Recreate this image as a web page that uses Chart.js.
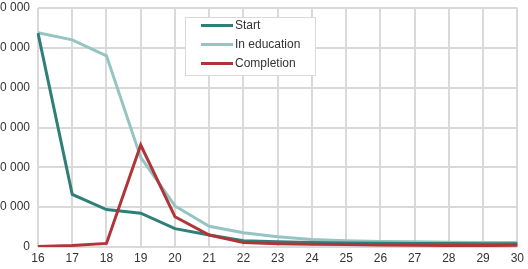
<!DOCTYPE html>
<html>
<head>
<meta charset="utf-8">
<script src="https://cdn.jsdelivr.net/npm/chart.js@4.4.0/dist/chart.umd.min.js"></script>
<style>
  html, body { margin: 0; padding: 0; background: #fff; overflow: hidden; }
  #wrap { position: absolute; left: -20px; top: 0; width: 548px; height: 269px; }
</style>
</head>
<body>
<div id="wrap"><canvas id="chart"></canvas></div>
<script>
const ages = ['16', '17', '18', '19', '20', '21', '22', '23', '24', '25', '26', '27', '28', '29', '30']
const startValues = [53700, 13200, 9400, 8500, 4600, 3000, 1600, 1300, 1100, 1000, 950, 900, 850, 800, 800]
const educationValues = [53800, 52000, 48000, 22500, 10300, 5200, 3600, 2600, 1900, 1600, 1400, 1300, 1200, 1100, 1100]
const completionValues = [100, 400, 900, 25600, 7600, 3000, 1100, 800, 700, 600, 500, 450, 400, 350, 450]
const yTicks = [0, 10000, 20000, 30000, 40000, 50000, 60000]

const FONT = "'Liberation Sans', Arial, sans-serif"
const GRID = '#d9d9d9'
const TEXT = '#333'

// legend box drawn inside the plot, like the spreadsheet original
const boxLegend = {
  id: 'boxLegend',
  afterDatasetsDraw(chart) {
    const ctx = chart.ctx
    const x = 205, y = 17, w = 130, h = 58
    ctx.save()
    ctx.fillStyle = '#fff'
    ctx.fillRect(x, y, w, h)
    ctx.strokeStyle = GRID
    ctx.lineWidth = 1
    ctx.strokeRect(x + 0.5, y + 0.5, w, h)
    ctx.font = '12px ' + FONT
    ctx.textBaseline = 'middle'
    chart.data.datasets.forEach((ds, i) => {
      const rowY = y + 8.5 + i * 19
      ctx.strokeStyle = ds.borderColor
      ctx.lineWidth = 3
      ctx.beginPath()
      ctx.moveTo(x + 16, rowY)
      ctx.lineTo(x + 48, rowY)
      ctx.stroke()
      ctx.fillStyle = TEXT
      ctx.fillText(ds.label, x + 50, rowY + 0.5)
    })
    ctx.restore()
  }
}

const fmt = v => String(v).replace(/\B(?=(\d{3})+(?!\d))/g, ' ')

new Chart(document.getElementById('chart'), {
  type: 'line',
  data: {
    labels: ages,
    datasets: [
      { label: 'Start', data: startValues, borderColor: '#2f7f78', order: 1 },
      { label: 'In education', data: educationValues, borderColor: '#95c5c2', order: 2 },
      { label: 'Completion', data: completionValues, borderColor: '#b03538', order: 0 }
    ]
  },
  options: {
    responsive: true,
    maintainAspectRatio: false,
    animation: false,
    layout: { padding: { top: 8, right: 10, left: 0, bottom: 0 } },
    elements: {
      line: { borderWidth: 3, tension: 0, fill: false },
      point: { radius: 0 }
    },
    plugins: {
      legend: { display: false },
      tooltip: { enabled: false }
    },
    scales: {
      x: {
        offset: false,
        grid: { color: GRID, lineWidth: 2, drawTicks: false },
        border: { display: false },
        ticks: { color: TEXT, font: { family: FONT, size: 12 }, padding: 4, maxRotation: 0, autoSkip: false },
        afterFit: s => { s.height = 22 }
      },
      y: {
        min: 0,
        max: 60000,
        afterBuildTicks: s => { s.ticks = yTicks.map(v => ({ value: v })) },
        grid: { color: GRID, lineWidth: 2, drawTicks: false },
        border: { display: false },
        ticks: { color: TEXT, font: { family: FONT, size: 12 }, padding: 8, callback: fmt },
        afterFit: s => { s.width = 58; s.paddingTop = 0; s.paddingBottom = 0 }
      }
    }
  },
  plugins: [boxLegend]
})
</script>
</body>
</html>
